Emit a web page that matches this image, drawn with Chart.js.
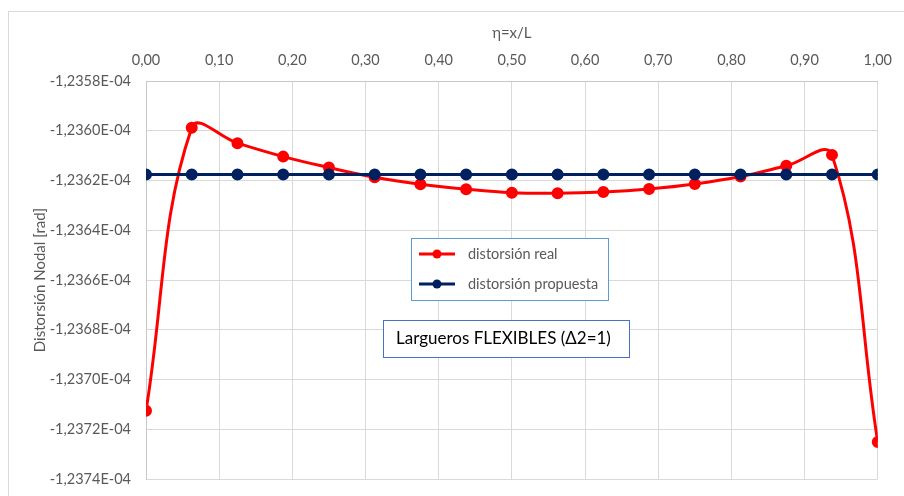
<!DOCTYPE html>
<html>
<head>
<meta charset="utf-8">
<script src="https://cdn.jsdelivr.net/npm/chart.js@4"></script>
<style>
    html, body { margin: 0; padding: 0; background: #ffffff; }
    #wrap { width: 904px; height: 496px; position: relative; }
</style>
</head>
<body>
<div id="wrap"><canvas id="distChart"></canvas></div>
<script>
// eta = x/L nodes
const etaNodes = [0, 0.0625, 0.125, 0.1875, 0.25, 0.3125, 0.375, 0.4375, 0.5,
    0.5625, 0.625, 0.6875, 0.75, 0.8125, 0.875, 0.9375, 1];

// values in units of 1E-04 rad
const distReal = [-1.237126, -1.235988, -1.236050, -1.236104, -1.236148, -1.236187,
    -1.236215, -1.236235, -1.236249, -1.236251, -1.236246, -1.236234, -1.236214,
    -1.236184, -1.236141, -1.236097, -1.237251];
const distPropuesta = [-1.236176, -1.236176, -1.236176, -1.236176, -1.236176, -1.236176,
    -1.236176, -1.236176, -1.236176, -1.236176, -1.236176, -1.236176, -1.236176,
    -1.236176, -1.236176, -1.236176, -1.236176];

const seriesLabels = ['distorsión real', 'distorsión propuesta'];
const boxText = 'Largueros FLEXIBLES (\u03942=1)';

const yMin = -1.2374, yMax = -1.2358, yStep = 0.0002;
const xMin = 0, xMax = 1, xStep = 0.1;

const FONT = 'Lato, "Open Sans", sans-serif';
const RED = '#ff0000';
const NAVY = '#002060';

function toPoints(xs, ys) {
    return xs.map((x, i) => ({ x: x, y: ys[i] }));
}

// white background + outer chart frame
const framePlugin = {
    id: 'frame',
    beforeDraw(chart) {
        const ctx = chart.ctx;
        ctx.save();
        ctx.fillStyle = '#ffffff';
        ctx.fillRect(0, 0, chart.width, chart.height);
        ctx.strokeStyle = '#d9d9d9';
        ctx.lineWidth = 1;
        ctx.strokeRect(8.5, 11.5, chart.width + 10, chart.height + 10);
        ctx.restore();
    }
};

// legend box and text box inside the plot area
const boxesPlugin = {
    id: 'boxes',
    afterDatasetsDraw(chart) {
        const ctx = chart.ctx;
        const area = chart.chartArea;
        const lx = area.left + 265, ly = area.top + 157;
        ctx.save();
        ctx.fillStyle = '#ffffff';
        ctx.fillRect(lx, ly, 197, 62);
        ctx.strokeStyle = '#5b9bd5';
        ctx.lineWidth = 1;
        ctx.strokeRect(lx + 0.5, ly + 0.5, 197, 62);

        const colors = [RED, NAVY];
        ctx.font = '14.5px ' + FONT;
        ctx.textBaseline = 'middle';
        seriesLabels.forEach((label, i) => {
            const cy = ly + 16 + i * 30;
            ctx.strokeStyle = colors[i];
            ctx.lineWidth = 3;
            ctx.beginPath();
            ctx.moveTo(lx + 8, cy);
            ctx.lineTo(lx + 44, cy);
            ctx.stroke();
            ctx.fillStyle = colors[i];
            ctx.beginPath();
            ctx.arc(lx + 26, cy, 4.5, 0, Math.PI * 2);
            ctx.fill();
            ctx.fillStyle = '#595959';
            ctx.fillText(label, lx + 57, cy);
        });

        const bx = area.left + 237, by = area.top + 239;
        ctx.fillStyle = '#ffffff';
        ctx.fillRect(bx, by, 246, 37);
        ctx.strokeStyle = '#4472c4';
        ctx.lineWidth = 1;
        ctx.strokeRect(bx + 0.5, by + 0.5, 246, 37);
        ctx.font = '17px ' + FONT;
        ctx.fillStyle = '#000000';
        ctx.fillText(boxText, bx + 13, by + 19);
        ctx.restore();
    }
};

document.addEventListener('DOMContentLoaded', function () {
    const ctx = document.getElementById('distChart').getContext('2d');
    new Chart(ctx, {
        type: 'line',
        data: {
            datasets: [{
                label: seriesLabels[0],
                data: toPoints(etaNodes, distReal),
                borderColor: RED,
                backgroundColor: RED,
                borderWidth: 3,
                pointRadius: 4.5,
                pointHoverRadius: 4.5,
                tension: 0.4,
                order: 1
            }, {
                label: seriesLabels[1],
                data: toPoints(etaNodes, distPropuesta),
                borderColor: NAVY,
                backgroundColor: NAVY,
                borderWidth: 3,
                pointRadius: 4.5,
                pointHoverRadius: 4.5,
                tension: 0,
                order: 0
            }]
        },
        options: {
            responsive: true,
            maintainAspectRatio: false,
            animation: false,
            layout: { padding: { left: 0, top: 0, right: 25, bottom: 17 } },
            plugins: {
                legend: { display: false },
                tooltip: { enabled: false }
            },
            scales: {
                x: {
                    type: 'linear',
                    position: 'top',
                    min: xMin,
                    max: xMax,
                    ticks: {
                        stepSize: xStep,
                        padding: 12,
                        color: '#595959',
                        font: { family: FONT, size: 14.5 },
                        callback: v => v.toFixed(2).replace('.', ',')
                    },
                    grid: { color: '#d9d9d9', drawTicks: false },
                    border: { color: '#c8c8c8' },
                    title: {
                        display: true,
                        text: '\u03b7=x/L',
                        color: '#595959',
                        font: { family: FONT, size: 15 },
                        padding: { top: 24, bottom: 0 }
                    },
                    afterFit: scale => { scale.height = 81; }
                },
                y: {
                    type: 'linear',
                    min: yMin,
                    max: yMax,
                    ticks: {
                        stepSize: yStep,
                        padding: 15,
                        color: '#595959',
                        font: { family: FONT, size: 14.5 },
                        callback: v => v.toFixed(4).replace('.', ',') + 'E-04'
                    },
                    grid: { color: '#d9d9d9', drawTicks: false },
                    border: { color: '#c8c8c8' },
                    title: {
                        display: true,
                        text: 'Distorsión Nodal [rad]',
                        color: '#595959',
                        font: { family: FONT, size: 15 },
                        padding: { top: 31, bottom: 0 }
                    },
                    afterFit: scale => {
                        scale.width = 146;
                        scale.paddingTop = 0;
                        scale.paddingBottom = 0;
                    }
                }
            }
        },
        plugins: [framePlugin, boxesPlugin]
    });
});
</script>
</body>
</html>
